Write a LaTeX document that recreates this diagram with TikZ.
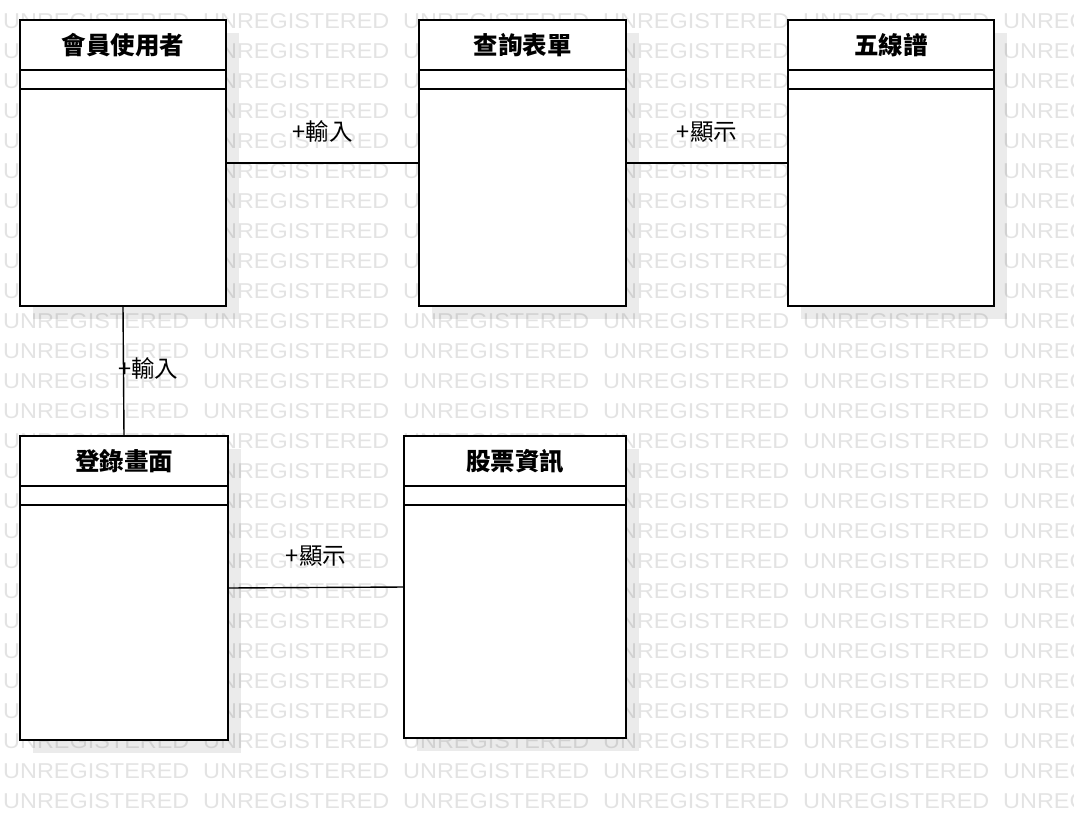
\documentclass[tikz,border=0pt]{standalone}
\usepackage{fontspec}
\setmainfont{Liberation Sans}
\newfontfamily\cjk{Noto Sans CJK TC}
\usetikzlibrary{shadows}

\begin{document}
\begin{tikzpicture}[x=1pt,y=-1pt,
    classbox/.style={draw,line width=2pt,fill=white,inner sep=0pt,outer sep=0pt,anchor=north west,
      drop shadow={shadow xshift=13pt,shadow yshift=-13pt,fill=black,opacity=0.08}},
    compart/.style={line width=2pt},
    classname/.style={font=\cjk\bfseries\fontsize{24.5}{24.5}\selectfont,inner sep=0pt},
    assoc/.style={line width=1.4pt},
    role/.style={font=\cjk\fontsize{23.5}{23.5}\selectfont,inner sep=0pt},
    wmark/.style={font=\fontsize{21.5}{21.5}\selectfont,text=black,opacity=0.11,anchor=base west,inner sep=0pt}]
  \useasboundingbox (0,0) rectangle (1074,820);
  \clip (0,0) rectangle (1074,820);

  % watermark
  \foreach \r in {-1,...,26}
    \foreach \c in {0,...,5}
      \node[wmark] (wm-\r-\c) at (3+200*\c,28.5+30*\r) {\scalebox{1.09}[1]{UNREGISTERED}};

  % classes
  \node[classbox,minimum width=206pt,minimum height=286pt] (b1) at (20,20) {};
  \node[classbox,minimum width=207pt,minimum height=286pt] (b2) at (419,20) {};
  \node[classbox,minimum width=206pt,minimum height=286pt] (b3) at (788,20) {};
  \node[classbox,minimum width=208pt,minimum height=304pt] (b4) at (20,436) {};
  \node[classbox,minimum width=222pt,minimum height=302pt] (b5) at (404,436) {};

  \foreach \b in {b1,b2,b3,b4,b5}
    \foreach \d in {50,69}
      \draw[compart] ([yshift=-\d pt]\b.north west) -- ([yshift=-\d pt]\b.north east);

  \node[classname] (n1) at ([yshift=-25pt]b1.north) {會員使用者};
  \node[classname] (n2) at ([yshift=-25pt]b2.north) {查詢表單};
  \node[classname] (n3) at ([yshift=-25pt]b3.north) {五線譜};
  \node[classname] (n4) at ([yshift=-25pt]b4.north) {登錄畫面};
  \node[classname] (n5) at ([yshift=-25pt]b5.north) {股票資訊};

  % associations
  \draw[assoc] (b1.east) -- node[role,above=20pt] (r1) {+輸入} (b2.west);
  \draw[assoc] (b2.east) -- node[role,above=20pt] (r2) {+顯示} (b3.west);
  \draw[assoc] (b1.south) -- node[role,anchor=west,xshift=-6pt,yshift=3pt] (r3) {+輸入} (b4.north);
  \draw[assoc] (b4.east) -- node[role,above=20pt] (r4) {+顯示} (b5.west);
\end{tikzpicture}
\end{document}
